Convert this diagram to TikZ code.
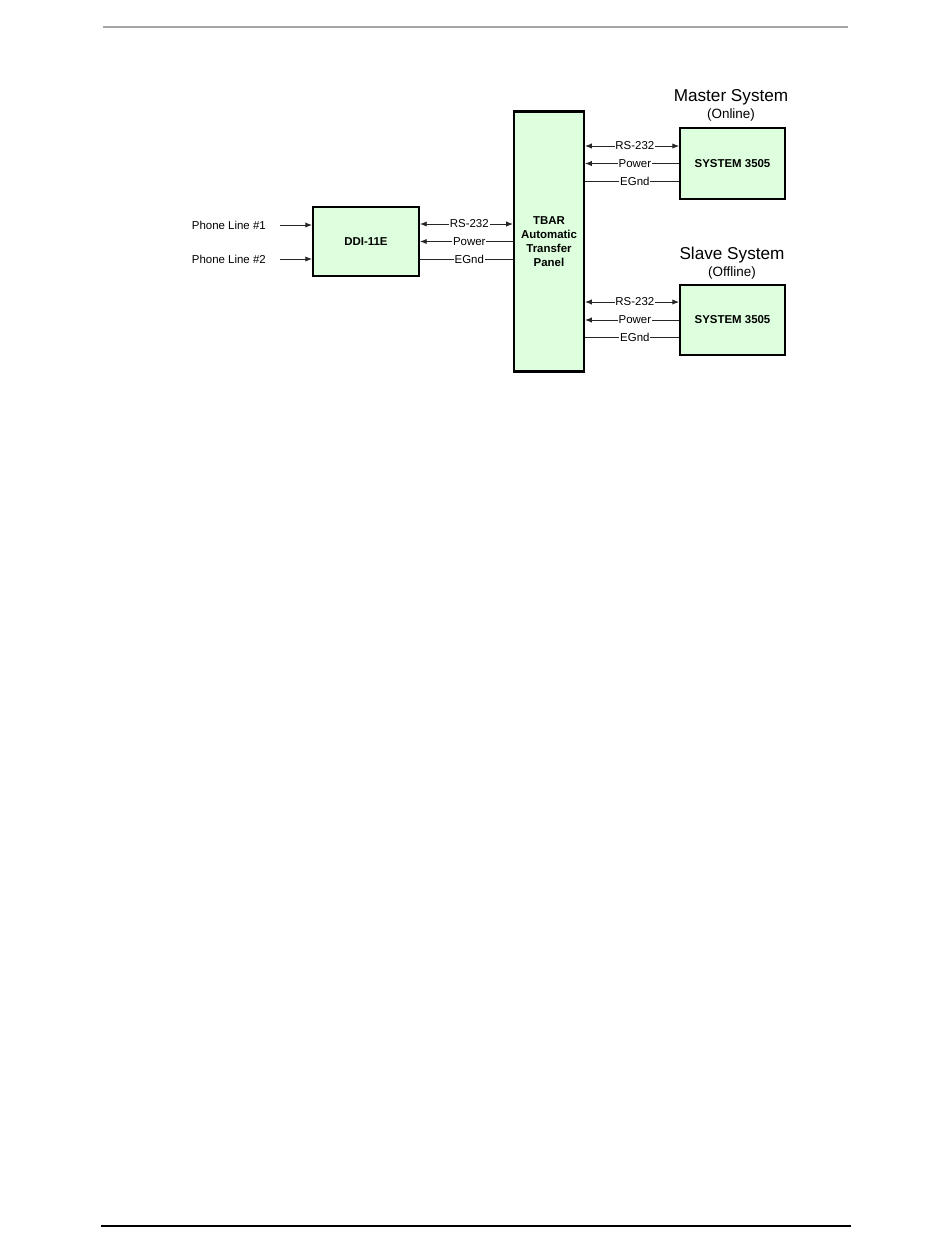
\documentclass[tikz,border=0pt]{standalone}
\usepackage{fontspec}
\setmainfont{Liberation Sans}
\usetikzlibrary{positioning, calc, arrows.meta}
\definecolor{boxgreen}{RGB}{221,255,221}
\tikzset{
  unit/.style={draw=black, line width=1.4pt, fill=boxgreen, align=center,
    font=\fontsize{7.4}{9.2}\selectfont\bfseries},
  sig/.style={line width=0.6pt, draw=black!85, >={Latex[length=4.4pt,width=3.4pt]}},
  lbl/.style={fill=white, inner sep=0.6pt, text=black, font=\fontsize{7.4}{9}\selectfont},
  title/.style={inner sep=0pt, font=\fontsize{11.1}{13}\selectfont},
  subtitle/.style={inner sep=0pt, font=\fontsize{8.7}{10}\selectfont},
}

\begin{document}
\begin{tikzpicture}[x=0.022726cm, y=-0.022726cm]
      \fill[white] (0,0) rectangle (950,1260);
      \useasboundingbox (0,0) rectangle (950,1260);

      % page rules
      \draw[line width=1.3pt, gray!70] (103,27) -- (848,27);
      \draw[line width=1.3pt, black] (101,1226) -- (851,1226);

      \node[unit, minimum width=68.3pt, minimum height=44.4pt] (ddi) at (366,241.5) {DDI-11E};
      \node[unit, minimum width=45.1pt, minimum height=168.1pt] (tbar) at (549,241.5) {TBAR\\Automatic\\Transfer\\Panel};
      \node[unit, minimum width=67.6pt, minimum height=45.7pt] (master) at (732.5,163.5) {SYSTEM 3505};
      \node[unit, minimum width=67.6pt, minimum height=45.1pt] (slave) at (732.5,320) {SYSTEM 3505};

      \node[title] (mastertitle) at (731,97) {Master System};
      \node[subtitle] (masterstate) at (731,115) {(Online)};
      \node[title] (slavetitle) at (732,255) {Slave System};
      \node[subtitle] (slavestate) at (732,273) {(Offline)};

      \node[lbl, anchor=east] (phone1) at (267,225) {Phone Line \#1};
      \node[lbl, anchor=east] (phone2) at (267,259) {Phone Line \#2};

      \draw[sig,->] ([xshift=8.5pt]phone1.east) -- (ddi.west |- phone1.east);
      \draw[sig,->] ([xshift=8.5pt]phone2.east) -- (ddi.west |- phone2.east);

      % DDI-11E to TBAR
      \draw[sig,<->] (ddi.east |- 0,224) -- node[lbl, pos=0.53] {RS-232} (tbar.west |- 0,224);
      \draw[sig,<-] (ddi.east |- 0,241.5) -- node[lbl, pos=0.53] {Power} (tbar.west |- 0,241.5);
      \draw[sig] (ddi.east |- 0,259) -- node[lbl, pos=0.53] {EGnd} (tbar.west |- 0,259);

      % TBAR to master system
      \draw[sig,<->] (tbar.east |- 0,146) -- node[lbl, pos=0.53] {RS-232} (master.west |- 0,146);
      \draw[sig,<-] (tbar.east |- 0,163.5) -- node[lbl, pos=0.53] {Power} (master.west |- 0,163.5);
      \draw[sig] (tbar.east |- 0,181) -- node[lbl, pos=0.53] {EGnd} (master.west |- 0,181);

      % TBAR to slave system
      \draw[sig,<->] (tbar.east |- 0,302) -- node[lbl, pos=0.53] {RS-232} (slave.west |- 0,302);
      \draw[sig,<-] (tbar.east |- 0,320) -- node[lbl, pos=0.53] {Power} (slave.west |- 0,320);
      \draw[sig] (tbar.east |- 0,337) -- node[lbl, pos=0.53] {EGnd} (slave.west |- 0,337);
    \end{tikzpicture}
\end{document}
